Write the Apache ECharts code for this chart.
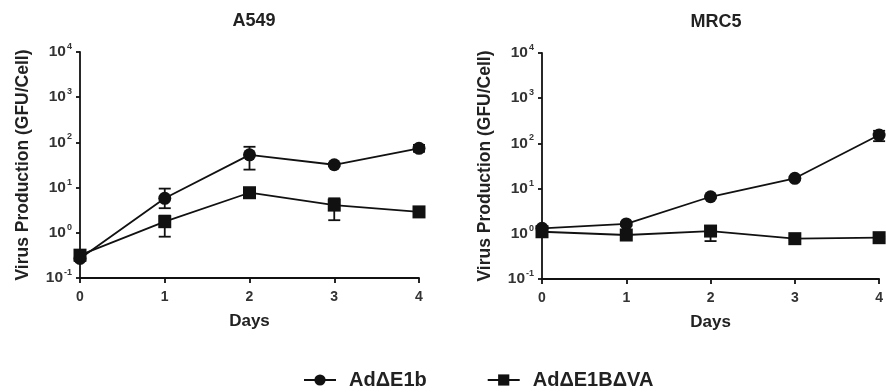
<!DOCTYPE html>
<html>
<head>
<meta charset="utf-8">
<script src="https://cdn.jsdelivr.net/npm/echarts@6/dist/echarts.min.js"></script>
<style>
  html, body { margin: 0; padding: 0; background: #fff; }
  #chart { width: 886px; height: 392px; }
</style>
</head>
<body>
<div id="chart"></div>
<script>
// Time points (days post infection)
const days = [0, 1, 2, 3, 4];

// A549 cells: mean virus production (GFU/cell) with error range
const a549E1b   = [0.27, 5.8, 53, 32, 74];
const a549E1bLo = [0.24, 3.5, 25, 30, 62];
const a549E1bHi = [0.31, 9.5, 80, 35, 88];
const a549VA    = [0.32, 1.76, 7.7, 4.1, 2.9];
const a549VALo  = [0.28, 0.82, 7.0, 1.9, 2.4];
const a549VAHi  = [0.37, 2.4, 8.5, 5.8, 3.4];

// MRC5 cells
const mrc5E1b   = [1.32, 1.65, 6.6, 16.9, 153];
const mrc5E1bLo = [1.2, 1.5, 6.2, 16, 112];
const mrc5E1bHi = [1.45, 1.8, 7.0, 18, 190];
const mrc5VA    = [1.11, 0.94, 1.15, 0.78, 0.82];
const mrc5VALo  = [1.0, 0.88, 0.69, 0.74, 0.78];
const mrc5VAHi  = [1.2, 1.0, 1.48, 0.83, 0.87];

const panelTitles = ['A549', 'MRC5'];
const seriesNames = ['Ad\u0394E1b', 'Ad\u0394E1B\u0394VA'];

const FONT = 'Liberation Sans, Arial, sans-serif';
const INK = '#111';

const chart = echarts.init(document.getElementById('chart'));

function pairs(ys) { return days.map((d, i) => [d, ys[i]]); }
function errRows(lo, hi) { return days.map((d, i) => [d, lo[i], hi[i]]); }

function errorBars(rows, idx) {
  return {
    type: 'custom',
    xAxisIndex: idx, yAxisIndex: idx,
    silent: true,
    z: 3,
    renderItem: function (params, api) {
      const x = api.value(0);
      const p1 = api.coord([x, api.value(1)]);
      const p2 = api.coord([x, api.value(2)]);
      const w = 6;
      const style = { stroke: INK, lineWidth: 1.8 };
      return {
        type: 'group',
        children: [
          { type: 'line', shape: { x1: p1[0], y1: p1[1], x2: p2[0], y2: p2[1] }, style },
          { type: 'line', shape: { x1: p1[0] - w, y1: p1[1], x2: p1[0] + w, y2: p1[1] }, style },
          { type: 'line', shape: { x1: p2[0] - w, y1: p2[1], x2: p2[0] + w, y2: p2[1] }, style }
        ]
      };
    },
    data: rows
  };
}

function lineSeries(name, ys, idx, symbol) {
  return {
    name: name,
    type: 'line',
    xAxisIndex: idx, yAxisIndex: idx,
    data: pairs(ys),
    symbol: symbol,
    symbolSize: 13,
    showAllSymbol: true,
    lineStyle: { color: INK, width: 1.8 },
    itemStyle: { color: INK, borderColor: INK, borderWidth: 0 },
    z: 4
  };
}

function xAxis(idx) {
  return {
    type: 'value', gridIndex: idx,
    min: 0, max: 4, interval: 1,
    name: 'Days', nameLocation: 'middle', nameGap: 35,
    nameTextStyle: { fontFamily: FONT, fontWeight: 'bold', fontSize: 17, color: '#222' },
    axisLine: { lineStyle: { color: INK, width: 1.8 } },
    axisTick: { show: true, length: 5, lineStyle: { color: INK, width: 1.8 } },
    axisLabel: { margin: 12, fontFamily: FONT, fontWeight: 'bold', fontSize: 14, color: '#333' },
    splitLine: { show: false }
  };
}

function yAxis(idx) {
  return {
    type: 'log', gridIndex: idx, logBase: 10,
    min: 0.1, max: 10000,
    name: 'Virus Production (GFU/Cell)', nameLocation: 'middle', nameGap: 48,
    nameTextStyle: { fontFamily: FONT, fontWeight: 'bold', fontSize: 17.5, color: '#222' },
    axisLine: { show: true, lineStyle: { color: INK, width: 1.8 } },
    axisTick: { show: true, length: 4, lineStyle: { color: INK, width: 1.8 } },
    splitLine: { show: false },
    axisLabel: {
      margin: 8,
      formatter: function (v) {
        const e = Math.round(Math.log10(v));
        return '{b|10}{s|' + e + '}';
      },
      rich: {
        b: { fontFamily: FONT, fontWeight: 'bold', fontSize: 15.5, color: '#333', lineHeight: 20, verticalAlign: 'middle' },
        s: { fontFamily: FONT, fontWeight: 'bold', fontSize: 9, color: '#333', lineHeight: 20, verticalAlign: 'top', padding: [0, 0, 0, 1] }
      }
    }
  };
}

chart.setOption({
  backgroundColor: '#fff',
  animation: false,
  title: [
    { text: panelTitles[0], left: 249, top: 7, textAlign: 'center',
      textStyle: { fontFamily: FONT, fontWeight: 'bold', fontSize: 18, color: '#222' } },
    { text: panelTitles[1], left: 711, top: 8, textAlign: 'center',
      textStyle: { fontFamily: FONT, fontWeight: 'bold', fontSize: 18, color: '#222' } }
  ],
  legend: {
    data: seriesNames,
    top: 365, left: 298,
    itemWidth: 32, itemHeight: 14, itemGap: 60,
    textStyle: { fontFamily: FONT, fontWeight: 'bold', fontSize: 20, color: '#222', padding: [0, 0, 0, 8] }
  },
  grid: [
    { left: 80, right: 467, top: 52, bottom: 114 },
    { left: 542, right: 6, top: 53, bottom: 113 }
  ],
  xAxis: [xAxis(0), xAxis(1)],
  yAxis: [yAxis(0), yAxis(1)],
  series: [
    errorBars(errRows(a549E1bLo, a549E1bHi), 0),
    errorBars(errRows(a549VALo, a549VAHi), 0),
    lineSeries(seriesNames[0], a549E1b, 0, 'circle'),
    lineSeries(seriesNames[1], a549VA, 0, 'rect'),
    errorBars(errRows(mrc5E1bLo, mrc5E1bHi), 1),
    errorBars(errRows(mrc5VALo, mrc5VAHi), 1),
    lineSeries(seriesNames[0], mrc5E1b, 1, 'circle'),
    lineSeries(seriesNames[1], mrc5VA, 1, 'rect')
  ]
});
</script>
</body>
</html>
